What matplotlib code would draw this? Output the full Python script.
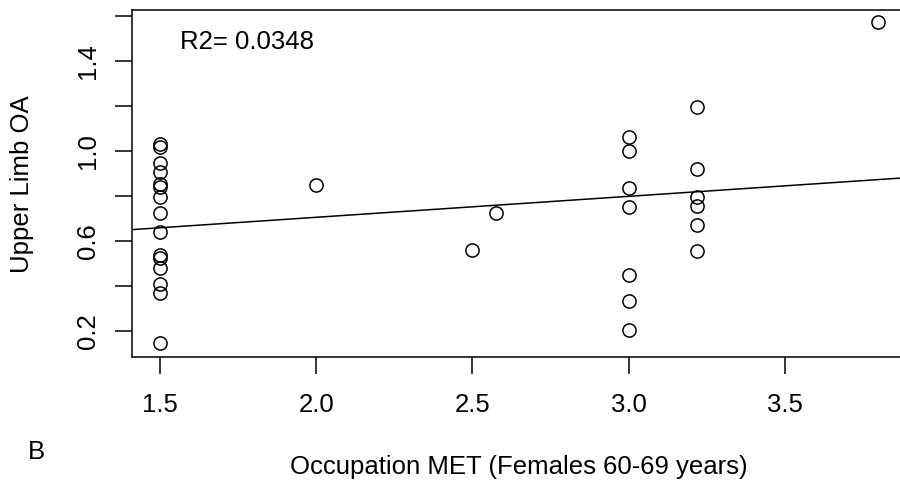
import numpy as np
import matplotlib
matplotlib.use("Agg")
import matplotlib.pyplot as plt

plt.rcParams['font.family'] = ['Liberation Sans', 'DejaVu Sans']

# Occupation MET vs upper limb OA (females 60-69)
met = [1.5] * 15 + [2.0, 2.5, 2.575] + [3.0] * 7 + [3.22] * 6 + [3.8]
oa = [1.031, 1.019, 0.948, 0.905, 0.853, 0.841, 0.797, 0.726, 0.641,
      0.538, 0.526, 0.479, 0.409, 0.368, 0.145,
      0.849, 0.560, 0.724,
      1.064, 1.001, 0.834, 0.750, 0.449, 0.333, 0.204,
      1.197, 0.919, 0.797, 0.756, 0.671, 0.557,
      1.573]
r2_text = "R2= 0.0348"

x = np.array(met)
y = np.array(oa)
slope, intercept = np.polyfit(x, y, 1)

fs = 18.5
fig = plt.figure(figsize=(9, 4.84), dpi=100)
ax = fig.add_axes([0.1463, 0.2624, 0.8614, 0.7169])

ax.plot(x, y, 'o', mfc='none', mec='black', ms=9.5, mew=1.1)

xlim = (1.408, 3.892)
ax.set_xlim(xlim)
ax.set_ylim(0.0835, 1.627)
xx = np.array(xlim)
ax.plot(xx, intercept + slope * xx, color='black', lw=1.1)

ax.set_xticks([1.5, 2.0, 2.5, 3.0, 3.5])
ax.set_xticklabels(['1.5', '2.0', '2.5', '3.0', '3.5'])
yt = [0.2, 0.4, 0.6, 0.8, 1.0, 1.2, 1.4, 1.6]
ax.set_yticks(yt)
ax.set_yticklabels(['0.2', '', '0.6', '', '1.0', '', '1.4', ''])

ax.tick_params(axis='both', direction='out', length=12, width=1.1,
               labelsize=fs, color='black')
ax.tick_params(axis='x', pad=14)
ax.tick_params(axis='y', pad=11, labelrotation=90)
for t in ax.get_yticklabels():
    t.set_va('center')

for s in ax.spines.values():
    s.set_linewidth(1.1)

ax.text(1.564, 1.486, r2_text, fontsize=fs, ha='left', va='center')

fig.text(519 / 900, 1 - 467 / 484, "Occupation MET (Females 60-69 years)",
         fontsize=fs, ha='center', va='center')
fig.text(22.5 / 900, 1 - 184 / 484, "Upper Limb OA", fontsize=fs,
         rotation=90, ha='center', va='center')
fig.text(36 / 900, 1 - 452 / 484, "B", fontsize=fs, ha='center', va='center')

fig.savefig("out.png", dpi=100)
